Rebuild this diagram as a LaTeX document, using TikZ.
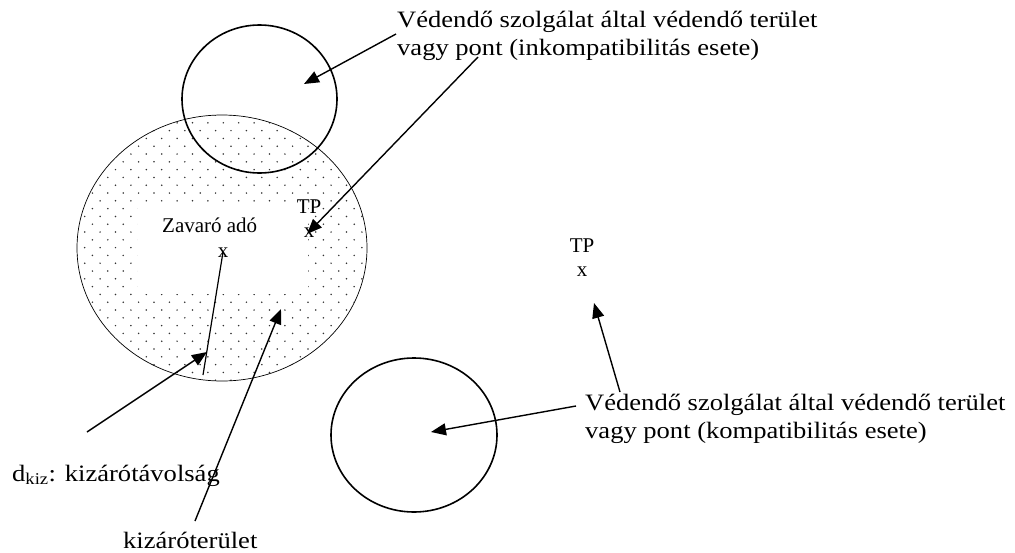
\documentclass[tikz,border=0pt]{standalone}
\usepackage{fontspec}
\setmainfont{Liberation Serif}
\newfontfamily\widefont{Liberation Serif}[FakeStretch=1.13]
\usetikzlibrary{arrows.meta}
\begin{document}
\begin{tikzpicture}[x=1pt,y=-1pt,
  bigtext/.style={font=\widefont\fontsize{23.5}{27.5}\selectfont,inner sep=0pt,align=left},
  smalltext/.style={font=\fontsize{21}{24.5}\selectfont,inner sep=0pt},
  ptr/.style={line width=1.4pt,-{Triangle[length=15pt,width=12pt]}},
  ring/.style={line width=1.6pt}]
  \useasboundingbox (0,0) rectangle (1015,552);
  % dotted exclusion zone
  \begin{scope}
    \clip (222,248) ellipse [x radius=145pt,y radius=133pt];
    \foreach \i in {0,...,34}
      \foreach \j in {0,...,20}
        \fill[black!80] ({77+\j*15.4+mod(\i,2)*7.7},{115+\i*7.8}) circle[radius=0.85pt];
  \end{scope}
  \fill[white] (138,202) rectangle (308,294);
  \draw[line width=0.7pt] (222,248) ellipse [x radius=145pt,y radius=133pt];
  % protected areas
  \draw[ring] (259.5,99) ellipse [x radius=77.5pt,y radius=74pt];
  \draw[ring] (414,435) ellipse [x radius=83pt,y radius=77pt];
  % labels (base = last line)
  \node[bigtext,anchor=base west] (incomp) at (397,55) {Védendő szolgálat által védendő terület\\vagy pont (inkompatibilitás esete)};
  \node[bigtext,anchor=base west] (comp) at (585,438) {Védendő szolgálat által védendő terület\\vagy pont (kompatibilitás esete)};
  \node[bigtext,anchor=base west] (dkiz) at (12,481) {d\textsubscript{kiz}: kizárótávolság};
  \node[bigtext,anchor=base west] (kizter) at (123,548) {kizáróterület};
  \node[smalltext,anchor=base west] (zavaro) at (162,232.7) {Zavaró adó};
  \node[smalltext,anchor=base] (zx) at (223,257) {x};
  \node[smalltext,align=center,anchor=base] (tp1) at (309,237.5) {TP\\x};
  \node[smalltext,align=center,anchor=base] (tp2) at (582,276.5) {TP\\x};
  % arrow ends
  \coordinate (incompA) at (396,34);
  \coordinate (incompB) at (478,57);
  \coordinate (topin) at (304,84);
  \coordinate (tp1x) at (307,234);
  \coordinate (compA) at (576,406);
  \coordinate (compB) at (620,392);
  \coordinate (botin) at (431,432);
  \coordinate (tp2x) at (594,303);
  \coordinate (dkizA) at (87,432);
  \coordinate (dkizB) at (207,352);
  \coordinate (kizA) at (195,521);
  \coordinate (kizB) at (281,309);
  \coordinate (dend) at (203,375);
  \draw[ptr] (incompA) -- (topin);
  \draw[ptr] (incompB) -- (tp1x);
  \draw[ptr] (compA) -- (botin);
  \draw[ptr] (compB) -- (tp2x);
  \draw[ptr] (dkizA) -- (dkizB);
  \draw[ptr] (kizA) -- (kizB);
  \draw[line width=1.2pt] (zx.center) -- (dend);
\end{tikzpicture}
\end{document}
